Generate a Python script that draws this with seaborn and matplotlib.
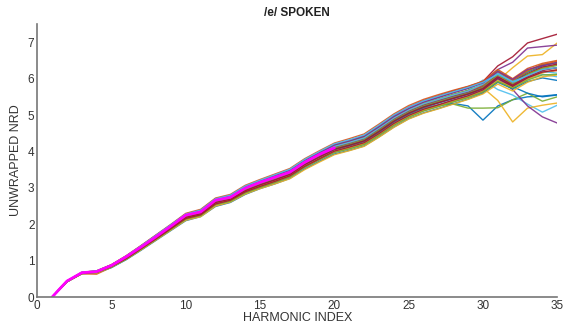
import matplotlib
matplotlib.use("Agg")
import matplotlib.pyplot as plt
import seaborn as sns
import pandas as pd

harmonics = list(range(1, 36))

line_a1 = [0.00,0.42,0.65,0.69,0.84,1.07,1.34,1.61,1.89,2.17,2.28,2.58,2.68,2.91,3.07,3.21,3.36,3.62,3.83,4.04,4.15,4.27,4.52,4.80,5.02,5.18,5.27,5.32,5.25,4.86,5.25,5.42,5.50,5.52,5.56]
line_a2 = [0.00,0.42,0.64,0.63,0.82,1.05,1.31,1.58,1.86,2.13,2.24,2.53,2.64,2.86,3.02,3.15,3.30,3.57,3.78,3.98,4.08,4.20,4.45,4.72,4.95,5.12,5.24,5.37,5.49,5.63,5.96,5.78,6.02,6.17,6.22]
line_a3 = [0.00,0.43,0.66,0.68,0.85,1.09,1.36,1.63,1.91,2.19,2.29,2.60,2.70,2.93,3.09,3.23,3.38,3.65,3.86,4.07,4.18,4.30,4.55,4.83,5.05,5.22,5.34,5.46,5.58,5.74,5.95,6.30,6.62,6.66,6.98]
line_a4 = [0.00,0.44,0.67,0.71,0.88,1.12,1.40,1.68,1.97,2.26,2.37,2.68,2.77,3.01,3.17,3.31,3.46,3.73,3.95,4.16,4.27,4.40,4.66,4.95,5.17,5.35,5.48,5.61,5.73,5.90,6.25,6.45,6.84,6.88,6.92]
line_a5 = [0.00,0.43,0.65,0.68,0.85,1.08,1.35,1.63,1.90,2.18,2.29,2.59,2.69,2.92,3.08,3.22,3.37,3.63,3.84,4.05,4.16,4.28,4.53,4.81,5.03,5.19,5.27,5.30,5.19,5.19,5.20,5.42,5.60,5.38,5.50]
line_a6 = [0.00,0.43,0.66,0.70,0.83,1.06,1.34,1.62,1.90,2.18,2.28,2.58,2.69,2.93,3.09,3.24,3.39,3.66,3.88,4.09,4.20,4.32,4.58,4.86,5.08,5.26,5.39,5.52,5.68,5.96,5.70,5.55,5.30,5.08,5.27]
line_a7 = [0.00,0.44,0.68,0.72,0.89,1.13,1.41,1.70,1.98,2.28,2.39,2.70,2.79,3.04,3.20,3.34,3.49,3.76,3.98,4.19,4.30,4.43,4.70,4.99,5.22,5.40,5.53,5.66,5.78,5.92,6.35,6.60,6.98,7.10,7.22]
line_b1 = [0.00,0.43,0.66,0.70,0.87,1.11,1.38,1.67,1.95,2.24,2.34,2.66,2.75,2.99,3.15,3.29,3.44,3.71,3.92,4.13,4.24,4.37,4.63,4.91,5.13,5.31,5.43,5.56,5.67,5.82,6.15,5.92,6.18,6.35,6.45]
line_b2 = [0.00,0.43,0.66,0.68,0.86,1.10,1.37,1.65,1.93,2.21,2.31,2.62,2.71,2.95,3.11,3.25,3.40,3.67,3.88,4.09,4.20,4.32,4.58,4.86,5.08,5.25,5.37,5.49,5.60,5.75,6.10,5.88,6.12,6.30,6.38]
line_b3 = [0.00,0.42,0.65,0.69,0.85,1.08,1.35,1.62,1.90,2.18,2.28,2.58,2.68,2.91,3.06,3.19,3.34,3.60,3.81,4.01,4.11,4.23,4.48,4.76,4.98,5.15,5.27,5.40,5.52,5.75,5.40,4.81,5.19,5.27,5.33]
line_b4 = [0.00,0.43,0.66,0.70,0.86,1.09,1.36,1.64,1.92,2.20,2.30,2.61,2.71,2.94,3.10,3.24,3.39,3.66,3.87,4.08,4.19,4.31,4.57,4.85,5.07,5.24,5.36,5.48,5.60,5.78,6.00,5.70,5.25,4.95,4.78]
line_b5 = [0.00,0.44,0.67,0.71,0.88,1.12,1.39,1.67,1.96,2.25,2.35,2.66,2.76,3.00,3.16,3.30,3.45,3.72,3.94,4.15,4.26,4.38,4.64,4.92,5.14,5.32,5.44,5.57,5.68,5.84,6.22,5.95,6.20,6.40,6.42]
line_b6 = [0.00,0.42,0.65,0.69,0.82,1.04,1.31,1.59,1.87,2.15,2.25,2.55,2.65,2.88,3.04,3.18,3.33,3.59,3.80,4.00,4.11,4.23,4.48,4.77,4.99,5.16,5.28,5.40,5.52,5.68,5.98,5.80,6.00,6.12,6.05]
line_b7 = [0.00,0.43,0.67,0.70,0.87,1.11,1.38,1.66,1.94,2.23,2.33,2.64,2.73,2.97,3.13,3.27,3.42,3.69,3.90,4.11,4.22,4.34,4.60,4.88,5.10,5.27,5.40,5.52,5.63,5.78,6.12,5.90,6.14,6.32,6.40]
line_c1 = [0.00,0.43,0.66,0.69,0.85,1.08,1.35,1.63,1.91,2.19,2.29,2.60,2.70,2.93,3.09,3.23,3.38,3.64,3.85,4.06,4.17,4.29,4.54,4.82,5.04,5.21,5.33,5.45,5.57,5.72,6.02,5.78,5.60,5.50,5.55]
line_c2 = [0.00,0.44,0.67,0.67,0.87,1.11,1.39,1.67,1.95,2.24,2.35,2.66,2.75,2.99,3.15,3.29,3.44,3.71,3.92,4.13,4.24,4.37,4.63,4.91,5.13,5.30,5.42,5.55,5.66,5.80,6.18,5.95,6.22,6.38,6.48]
line_c3 = [0.00,0.42,0.65,0.68,0.84,1.07,1.34,1.61,1.89,2.16,2.26,2.56,2.66,2.89,3.05,3.18,3.33,3.59,3.80,4.00,4.10,4.22,4.47,4.75,4.97,5.14,5.26,5.39,5.51,5.66,5.94,5.76,5.98,6.16,6.25]
line_c4 = [0.00,0.43,0.66,0.70,0.86,1.10,1.37,1.65,1.93,2.22,2.32,2.63,2.72,2.96,3.12,3.26,3.41,3.68,3.89,4.10,4.21,4.33,4.59,4.87,5.09,5.26,5.39,5.51,5.62,5.77,6.05,5.84,6.08,6.26,6.30]
line_c5 = [0.00,0.43,0.66,0.69,0.86,1.09,1.36,1.64,1.92,2.21,2.31,2.62,2.71,2.95,3.11,3.25,3.40,3.67,3.88,4.09,4.20,4.32,4.58,4.86,5.08,5.25,5.37,5.49,5.60,5.76,6.10,5.85,6.12,6.28,6.36]
line_c6 = [0.00,0.44,0.67,0.71,0.87,1.11,1.39,1.67,1.96,2.25,2.36,2.67,2.76,3.00,3.16,3.30,3.45,3.72,3.93,4.14,4.25,4.37,4.64,4.92,5.14,5.31,5.43,5.55,5.66,5.85,6.15,5.90,6.05,6.20,6.15]
line_c7 = [0.00,0.43,0.66,0.68,0.85,1.08,1.35,1.63,1.91,2.19,2.29,2.60,2.69,2.92,3.08,3.22,3.37,3.64,3.85,4.06,4.17,4.29,4.55,4.83,5.05,5.22,5.34,5.46,5.58,5.73,6.05,5.82,6.05,6.22,6.30]
line_d1 = [0.00,0.42,0.64,0.67,0.81,1.03,1.29,1.56,1.83,2.10,2.21,2.49,2.60,2.82,2.98,3.11,3.26,3.52,3.73,3.93,4.03,4.15,4.40,4.67,4.90,5.06,5.18,5.31,5.44,5.60,5.90,5.72,5.92,6.02,5.95]
line_d2 = [0.00,0.44,0.68,0.72,0.89,1.14,1.42,1.71,2.00,2.30,2.41,2.72,2.82,3.07,3.23,3.38,3.53,3.80,4.02,4.23,4.35,4.48,4.75,5.03,5.26,5.43,5.56,5.68,5.79,5.93,6.25,6.00,6.28,6.42,6.50]
line_d3 = [0.00,0.42,0.64,0.66,0.82,1.04,1.30,1.57,1.84,2.11,2.21,2.50,2.61,2.83,2.98,3.11,3.25,3.50,3.71,3.91,4.02,4.14,4.39,4.66,4.89,5.05,5.17,5.30,5.43,5.58,5.85,5.66,5.90,6.05,6.10]
line_d4 = [0.00,0.43,0.67,0.71,0.88,1.12,1.40,1.69,1.98,2.27,2.38,2.69,2.79,3.03,3.19,3.34,3.49,3.76,3.97,4.18,4.29,4.42,4.68,4.96,5.18,5.36,5.49,5.62,5.74,5.88,6.20,5.98,6.25,6.36,6.44]
line_d5 = [0.00,0.42,0.65,0.67,0.83,1.05,1.32,1.59,1.86,2.14,2.24,2.54,2.63,2.86,3.01,3.15,3.30,3.56,3.77,3.97,4.07,4.19,4.44,4.72,4.94,5.11,5.23,5.36,5.48,5.64,5.92,5.74,5.96,6.10,6.12]
line_d6 = [0.00,0.44,0.68,0.72,0.88,1.13,1.41,1.70,1.99,2.28,2.39,2.70,2.80,3.05,3.21,3.36,3.51,3.78,4.00,4.21,4.32,4.45,4.72,5.00,5.22,5.39,5.52,5.64,5.76,5.90,6.12,5.92,6.08,6.25,6.30]
line_d7 = [0.00,0.43,0.65,0.68,0.84,1.06,1.33,1.60,1.88,2.16,2.26,2.56,2.66,2.89,3.04,3.18,3.33,3.59,3.80,4.01,4.12,4.24,4.49,4.77,4.99,5.16,5.28,5.41,5.53,5.69,6.00,5.79,6.02,6.18,6.24]

mean_harmonics = list(range(1, 21))
mean_line = [0.00,0.44,0.67,0.70,0.87,1.11,1.38,1.66,1.95,2.25,2.34,2.66,2.74,2.99,3.15,3.29,3.43,3.70,3.92,4.10]

all_lines = [line_a1, line_a2, line_a3, line_a4, line_a5, line_a6, line_a7,
             line_b1, line_b2, line_b3, line_b4, line_b5, line_b6, line_b7,
             line_c1, line_c2, line_c3, line_c4, line_c5, line_c6, line_c7,
             line_d1, line_d2, line_d3, line_d4, line_d5, line_d6, line_d7]

matlab_colors = ["#0072BD", "#D95319", "#EDB120", "#7E2F8E", "#77AC30", "#4DBEEE", "#A2142F"]

rows = []
for i, vals in enumerate(all_lines):
    for h, v in zip(harmonics, vals):
        rows.append({"line": f"L{i:02d}", "harmonic": h, "nrd": v})
df = pd.DataFrame(rows)
palette = {f"L{i:02d}": matlab_colors[i % 7] for i in range(len(all_lines))}

df_mean = pd.DataFrame({"harmonic": mean_harmonics, "nrd": mean_line})

sns.set_style("white")
plt.rcParams["font.family"] = ["Liberation Sans", "DejaVu Sans"]

fig = plt.figure(figsize=(5.64, 3.29), dpi=100)
ax = fig.add_axes([0.066, 0.097, 0.922, 0.830])

sns.lineplot(data=df, x="harmonic", y="nrd", hue="line", palette=palette,
             estimator=None, legend=False, linewidth=1.0, alpha=0.9, ax=ax)
sns.lineplot(data=df_mean, x="harmonic", y="nrd", color="#FF00FF",
             linewidth=2.0, ax=ax)

ax.set_xlim(0, 35)
ax.set_ylim(0, 7.5)
ax.set_xticks([0, 5, 10, 15, 20, 25, 30, 35])
ax.set_yticks([0, 1, 2, 3, 4, 5, 6, 7])
ax.tick_params(direction="in", length=4, width=1, colors="#666666",
               labelcolor="#333333", labelsize=8.5, pad=2)
for s in ["top", "right"]:
    ax.spines[s].set_visible(False)
for s in ["left", "bottom"]:
    ax.spines[s].set_color("#777777")
    ax.spines[s].set_linewidth(1.2)

ax.set_xlabel("HARMONIC INDEX", fontsize=9, color="#333333", labelpad=0)
ax.set_ylabel("UNWRAPPED NRD", fontsize=9, color="#333333", labelpad=4)
ax.set_title("/e/ SPOKEN", fontsize=8.5, fontweight="bold", color="#222222", pad=6)

fig.savefig("out.png", dpi=100)
